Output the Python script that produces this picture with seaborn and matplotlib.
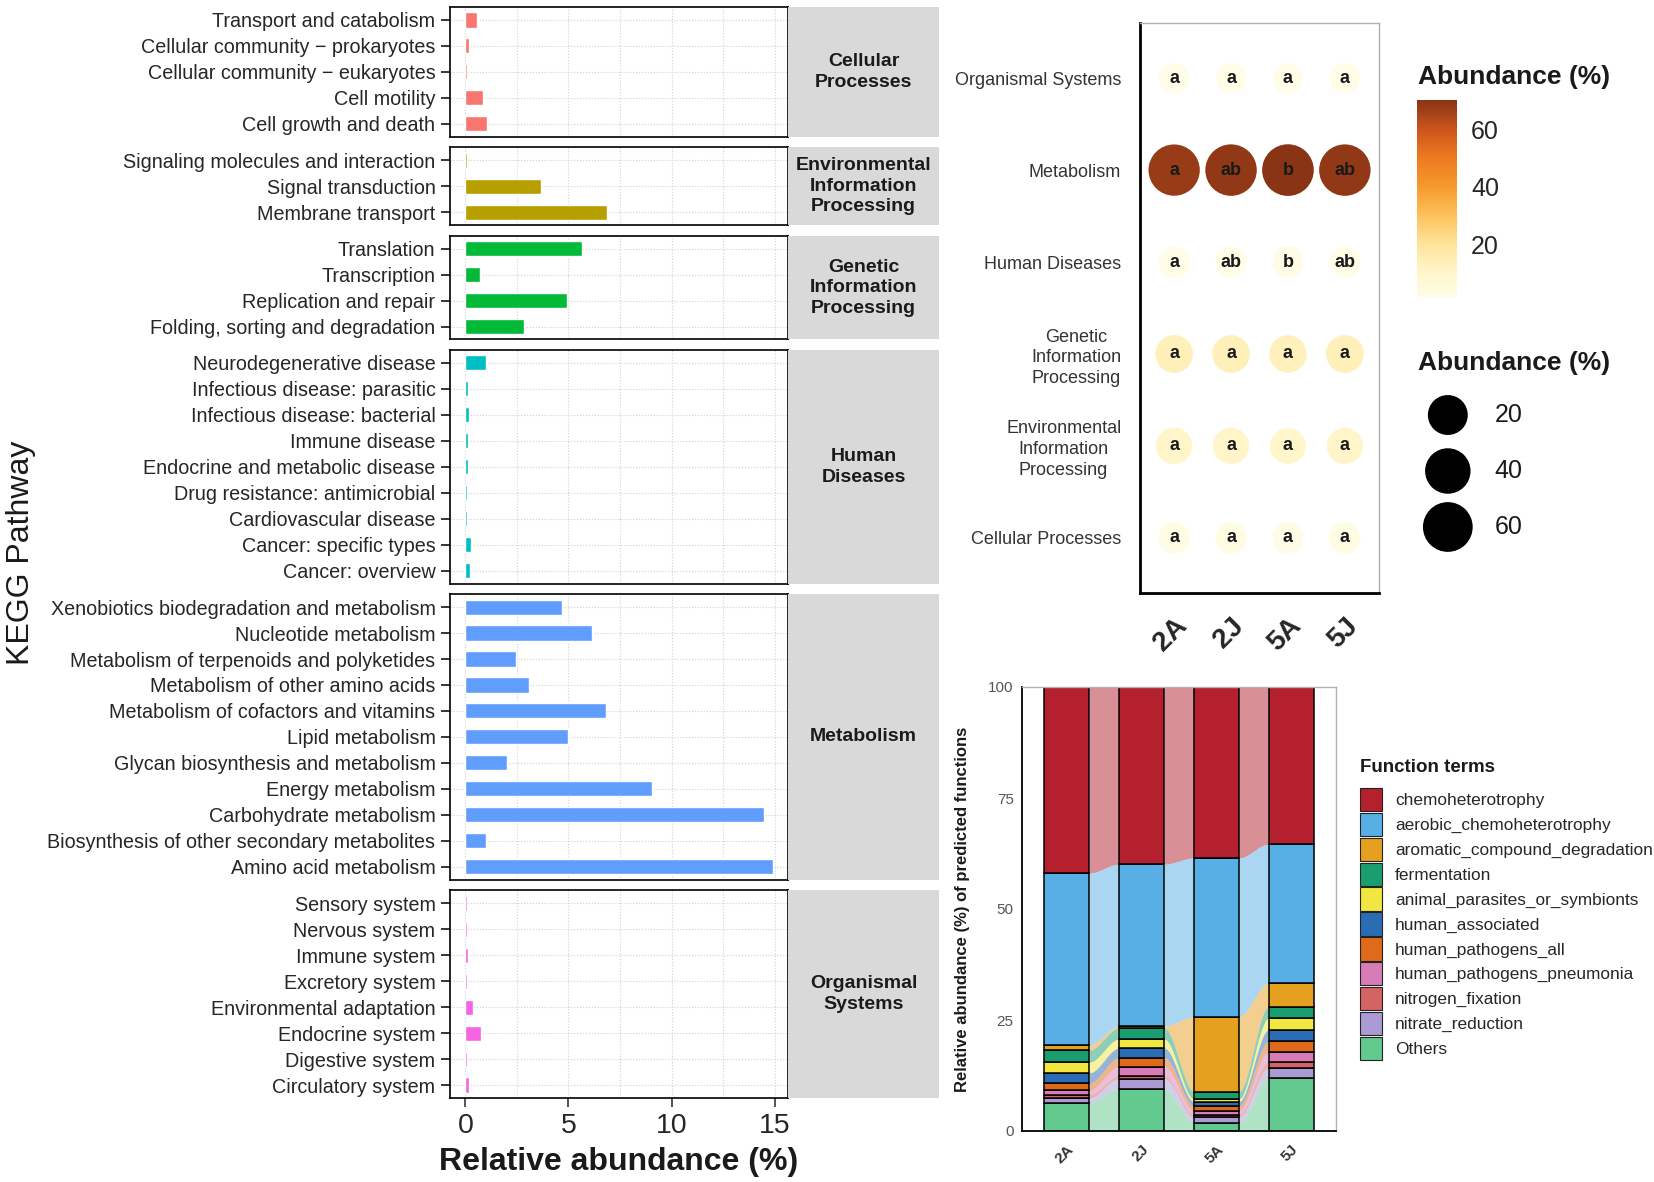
import numpy as np
import pandas as pd
import seaborn as sns
import matplotlib.pyplot as plt
from matplotlib.colors import LinearSegmentedColormap, Normalize
from matplotlib.cm import ScalarMappable
from matplotlib.patches import Patch

# ---- left panel: KEGG level 2 pathways, relative abundance (%) ----
cellular_names = ["Transport and catabolism", "Cellular community \u2212 prokaryotes",
                  "Cellular community \u2212 eukaryotes", "Cell motility", "Cell growth and death"]
cellular_pct = [0.58, 0.18, 0.06, 0.87, 1.03]

env_names = ["Signaling molecules and interaction", "Signal transduction", "Membrane transport"]
env_pct = [0.06, 3.67, 6.86]

genetic_names = ["Translation", "Transcription", "Replication and repair",
                 "Folding, sorting and degradation"]
genetic_pct = [5.64, 0.69, 4.95, 2.84]

human_names = ["Neurodegenerative disease", "Infectious disease: parasitic",
               "Infectious disease: bacterial", "Immune disease", "Endocrine and metabolic disease",
               "Drug resistance: antimicrobial", "Cardiovascular disease", "Cancer: specific types",
               "Cancer: overview"]
human_pct = [1.0, 0.15, 0.2, 0.12, 0.15, 0.08, 0.1, 0.29, 0.21]

metab_names = ["Xenobiotics biodegradation and metabolism", "Nucleotide metabolism",
               "Metabolism of terpenoids and polyketides", "Metabolism of other amino acids",
               "Metabolism of cofactors and vitamins", "Lipid metabolism",
               "Glycan biosynthesis and metabolism", "Energy metabolism", "Carbohydrate metabolism",
               "Biosynthesis of other secondary metabolites", "Amino acid metabolism"]
metab_pct = [4.70, 6.12, 2.45, 3.09, 6.84, 4.98, 2.02, 9.04, 14.5, 1.0, 14.9]

organ_names = ["Sensory system", "Nervous system", "Immune system", "Excretory system",
               "Environmental adaptation", "Endocrine system", "Digestive system",
               "Circulatory system"]
organ_pct = [0.06, 0.06, 0.15, 0.1, 0.35, 0.77, 0.06, 0.2]

facet_titles = ["Cellular\nProcesses", "Environmental\nInformation\nProcessing",
                "Genetic\nInformation\nProcessing", "Human\nDiseases", "Metabolism",
                "Organismal\nSystems"]
facet_colors = ["#F8766D", "#B79F00", "#00BA38", "#00BFC4", "#619CFF", "#F564E3"]

# ---- top right: level 1 abundance per sample + significance letters ----
samples = ["2A", "2J", "5A", "5J"]
level1_names = ["Organismal Systems", "Metabolism", "Human Diseases",
                "Genetic\nInformation\nProcessing", "Environmental\nInformation\nProcessing",
                "Cellular Processes"]
organismal_l1 = [1.6, 1.5, 1.7, 1.6]
metabolism_l1 = [68.2, 69.3, 70.4, 69.1]
human_l1 = [2.2, 2.3, 2.4, 2.3]
genetic_l1 = [13.9, 13.6, 13.2, 13.8]
environmental_l1 = [10.8, 10.6, 9.8, 10.4]
cellular_l1 = [2.7, 2.7, 2.5, 2.8]
letters_organismal = ["a", "a", "a", "a"]
letters_metabolism = ["a", "ab", "b", "ab"]
letters_human = ["a", "ab", "b", "ab"]
letters_genetic = ["a", "a", "a", "a"]
letters_environmental = ["a", "a", "a", "a"]
letters_cellular = ["a", "a", "a", "a"]

# ---- bottom right: FAPROTAX function terms (%) ----
functions = ["chemoheterotrophy", "aerobic_chemoheterotrophy", "aromatic_compound_degradation",
             "fermentation", "animal_parasites_or_symbionts", "human_associated",
             "human_pathogens_all", "human_pathogens_pneumonia", "nitrogen_fixation",
             "nitrate_reduction", "Others"]
function_colors = ["#B5202E", "#58AFE6", "#E6A020", "#1A9E70", "#F2E640", "#2A6DB5",
                   "#DE6A1A", "#D87CB8", "#D46464", "#AA9BD4", "#62C98F"]
pct_2A = [41.9, 38.7, 1.2, 2.7, 2.4, 2.3, 1.6, 1.0, 0.8, 1.0, 6.4]
pct_2J = [39.9, 36.5, 0.4, 2.5, 2.0, 2.2, 2.0, 2.1, 0.6, 2.3, 9.5]
pct_5A = [38.5, 35.8, 16.9, 1.6, 0.6, 0.9, 1.1, 0.9, 0.6, 1.2, 1.9]
pct_5J = [35.4, 31.3, 5.3, 2.6, 2.6, 2.6, 2.4, 2.2, 1.4, 2.2, 12.0]

sns.set_style("white")
plt.rcParams["font.family"] = ["Liberation Sans", "DejaVu Sans"]

W, H = 1654, 1182
fig = plt.figure(figsize=(W / 100, H / 100), dpi=100)

# ================= left: faceted horizontal bars =================
facets = list(zip(facet_titles,
                  [cellular_names, env_names, genetic_names, human_names, metab_names, organ_names],
                  [cellular_pct, env_pct, genetic_pct, human_pct, metab_pct, organ_pct],
                  facet_colors))
xmax = max(max(v) for _, _, v, _ in facets)
pad = 0.05 * xmax

gs = fig.add_gridspec(len(facets), 2, left=450 / W, right=939 / W, top=1 - 7 / H,
                      bottom=1 - 1098 / H, height_ratios=[len(n) for _, n, _, _ in facets],
                      width_ratios=[338, 151], hspace=0.06, wspace=0)

for i, (title, names, vals, col) in enumerate(facets):
    ax = fig.add_subplot(gs[i, 0])
    sax = fig.add_subplot(gs[i, 1])
    df = pd.DataFrame({"pathway": names, "pct": vals})
    sns.barplot(data=df, x="pct", y="pathway", color=col, saturation=1, width=0.58, ax=ax)
    ax.set_xlim(-pad, xmax + pad)
    ax.set_ylim(len(names) - 0.5, -0.5)
    ax.set_xticks([0, 5, 10, 15])
    ax.set_xticks([2.5, 7.5, 12.5], minor=True)
    ax.grid(True, which="both", axis="x", ls=":", lw=0.8, color="#d0d0d0")
    ax.grid(True, axis="y", ls=":", lw=0.8, color="#d0d0d0")
    ax.set_axisbelow(True)
    ax.set_xlabel("")
    ax.set_ylabel("")
    ax.tick_params(axis="y", left=True, length=6.5, width=1.1, color="black", labelsize=14.2,
                   labelcolor="#262626", pad=4)
    ax.tick_params(axis="x", which="minor", bottom=False)
    if i < len(facets) - 1:
        ax.tick_params(axis="x", bottom=False, labelbottom=False)
    else:
        ax.tick_params(axis="x", bottom=True, length=6.5, width=1.1, labelsize=20.5, pad=4,
                       labelcolor="#262626")
    for sp in ax.spines.values():
        sp.set_color("black")
        sp.set_linewidth(1.2)

    sax.set_facecolor("#d9d9d9")
    sax.set_xticks([])
    sax.set_yticks([])
    for sp in sax.spines.values():
        sp.set_visible(False)
    sax.text(0.5, 0.5, title, transform=sax.transAxes, ha="center", va="center",
             fontsize=14, fontweight="bold", color="#1a1a1a", linespacing=1.27)

fig.text(0.0127, 1 - 553 / H, "KEGG Pathway", rotation=90, ha="center", va="center",
         fontsize=23, color="#1a1a1a")
fig.text(619 / W, 1 - 1162 / H, "Relative abundance (%)", ha="center", va="center",
         fontsize=23, fontweight="bold", color="#1a1a1a")

# ================= top right: bubble chart =================
bub = pd.DataFrame({
    "sample": samples * len(level1_names),
    "level1": np.repeat(level1_names, len(samples)),
    "pct": np.concatenate([organismal_l1, metabolism_l1, human_l1, genetic_l1,
                           environmental_l1, cellular_l1]),
    "letter": (letters_organismal + letters_metabolism + letters_human + letters_genetic
               + letters_environmental + letters_cellular),
})
# ggplot-like area scale: diameter grows with sqrt(value)
bub["area"] = ((26.5 + 3 * np.sqrt(bub["pct"])) * 0.72) ** 2

vmin, vmax = bub["pct"].min(), bub["pct"].max()
stops = [(1.5, "#FFFDE8"), (10, "#FFF6CB"), (20, "#FEE39A"), (30, "#FCC25C"),
         (40, "#F69A2C"), (50, "#EE7A20"), (60, "#CC561C"), (70.4, "#8A3416")]
cmap = LinearSegmentedColormap.from_list(
    "abund", [((v - vmin) / (vmax - vmin), c) for v, c in stops])
norm = Normalize(vmin=vmin, vmax=vmax)

ax2 = fig.add_axes([1140 / W, 1 - 593 / H, (1379 - 1140) / W, (593 - 23) / H])
sns.scatterplot(data=bub, x="sample", y="level1", hue="pct", palette=cmap, hue_norm=norm,
                size="area", sizes=(bub["area"].min(), bub["area"].max()), linewidth=0,
                legend=False, ax=ax2, zorder=3)
for _, r in bub.iterrows():
    ax2.text(samples.index(r["sample"]), level1_names.index(r["level1"]), r["letter"],
             ha="center", va="center", fontsize=13, fontweight="bold", color="#1a1a1a", zorder=4)
ax2.set_xlim(-0.6, len(samples) - 0.4)
ax2.set_ylim(len(level1_names) - 0.4, -0.6)
ax2.set_xticks(range(len(samples)))
ax2.set_xticklabels(samples, rotation=45, ha="right", va="top", rotation_mode="anchor",
                    fontsize=20, fontweight="bold")
ax2.set_yticks(range(len(level1_names)))
ax2.set_yticklabels(level1_names, multialignment="center", linespacing=1.3)
ax2.tick_params(axis="y", length=9.5, width=1.5, labelsize=13, labelcolor="#333333", pad=4)
ax2.tick_params(axis="x", length=9.5, width=1.5, pad=5)
ax2.set_xlabel("")
ax2.set_ylabel("")
for side in ["left", "bottom"]:
    ax2.spines[side].set_color("black")
    ax2.spines[side].set_linewidth(2)
for side in ["top", "right"]:
    ax2.spines[side].set_color("#b0b0b0")
    ax2.spines[side].set_linewidth(1)

# colour bar
cax = fig.add_axes([1417 / W, 1 - 297 / H, 40 / W, 197 / H])
cb = fig.colorbar(ScalarMappable(norm=norm, cmap=cmap), cax=cax, ticks=[20, 40, 60])
cb.outline.set_visible(False)
cb.minorticks_off()
cax.tick_params(direction="in", length=8, width=1, color="white", left=True, right=True,
                labelsize=18, pad=10)
fig.text(1418 / W, 1 - 77 / H, "Abundance (%)", ha="left", va="center", fontsize=19,
         fontweight="bold", color="#1a1a1a")

# size legend
legend_vals = [20, 40, 60]
lax = fig.add_axes([1418 / W, 1 - 555 / H, 142 / W, 168 / H])
lax.scatter(np.full(3, 0.21), np.arange(3),
            s=[((26.5 + 3 * np.sqrt(v)) * 0.72) ** 2 for v in legend_vals],
            color="black", linewidth=0)
for k, v in enumerate(legend_vals):
    lax.text(0.54, k, str(v), ha="left", va="center", fontsize=18, color="#1a1a1a")
lax.set_xlim(0, 1)
lax.set_ylim(2.5, -0.5)
lax.axis("off")
fig.text(1418 / W, 1 - 363 / H, "Abundance (%)", ha="left", va="center", fontsize=19,
         fontweight="bold", color="#1a1a1a")

# ================= bottom right: stacked bars with alluvial flows =================
long = pd.DataFrame({
    "sample": np.repeat(samples, len(functions)),
    "function": functions * len(samples),
    "pct": np.concatenate([pct_2A, pct_2J, pct_5A, pct_5J]),
})
palette = dict(zip(functions, function_colors))

ax3 = fig.add_axes([1022 / W, 1 - 1131 / H, 314 / W, 444 / H])
bar_w = 0.6
sns.histplot(data=long, x="sample", weights="pct", hue="function", hue_order=functions,
             palette=palette, multiple="stack", discrete=True, shrink=bar_w, alpha=1,
             edgecolor="black", linewidth=1.1, legend=False, ax=ax3, zorder=2)

wide = long.pivot(index="function", columns="sample", values="pct").loc[functions[::-1], samples]
tops = wide.cumsum()
bots = tops - wide
t = np.linspace(0, 1, 80)
ease = t * t * (3 - 2 * t)
for i in range(len(samples) - 1):
    xs = i + bar_w / 2 + t * (1 - bar_w)
    for f in functions:
        lo = bots.loc[f].iloc[i] + (bots.loc[f].iloc[i + 1] - bots.loc[f].iloc[i]) * ease
        hi = tops.loc[f].iloc[i] + (tops.loc[f].iloc[i + 1] - tops.loc[f].iloc[i]) * ease
        ax3.fill_between(xs, lo, hi, color=palette[f], alpha=0.5, lw=0, zorder=1)

ax3.set_xlim(-0.6, len(samples) - 0.4)
ax3.set_ylim(0, 100)
ax3.set_yticks([0, 25, 50, 75, 100])
ax3.set_xticks(range(len(samples)))
ax3.set_xticklabels(samples, rotation=45, ha="right", va="top", rotation_mode="anchor",
                    fontsize=11, fontweight="bold", color="#333333")
ax3.tick_params(axis="y", length=4, width=1, labelsize=11, labelcolor="#555555", pad=2)
ax3.tick_params(axis="x", length=4, width=1, pad=4)
ax3.set_xlabel("")
ax3.set_ylabel("")
for side in ["left", "bottom"]:
    ax3.spines[side].set_color("black")
    ax3.spines[side].set_linewidth(1.3)
for side in ["top", "right"]:
    ax3.spines[side].set_color("#b0b0b0")
    ax3.spines[side].set_linewidth(1)
fig.text(962 / W, 1 - 909 / H, "Relative abundance (%) of predicted functions", rotation=90,
         ha="center", va="center", fontsize=12, fontweight="bold", color="#1a1a1a")

# function legend (title placed separately to match the gap above the keys)
fig.text(1360 / W, 1 - 768 / H, "Function terms", ha="left", va="center", fontsize=13.5,
         fontweight="bold", color="#1a1a1a")
handles = [Patch(facecolor=c, edgecolor="#222222", linewidth=0.8, label=f)
           for f, c in zip(functions, function_colors)]
fig.legend(handles=handles, loc="upper left", bbox_to_anchor=(1360 / W, 1 - 788 / H),
           frameon=False, fontsize=12.4, handlelength=1.28, handleheight=1.72,
           labelspacing=0.08, handletextpad=0.75, borderpad=0, borderaxespad=0)

fig.savefig("out.png", dpi=100)
